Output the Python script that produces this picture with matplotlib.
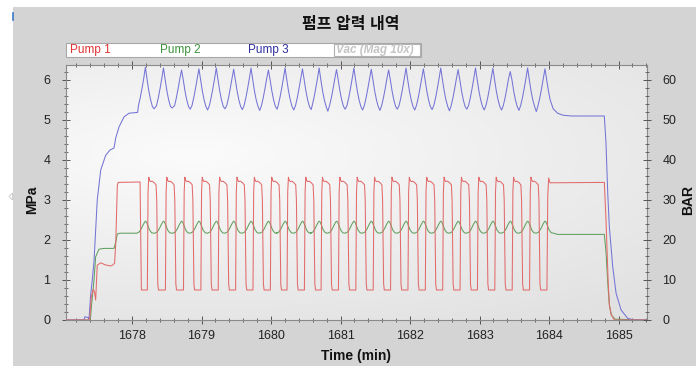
import numpy as np
import matplotlib
matplotlib.use("Agg")
import matplotlib.pyplot as plt
from matplotlib.ticker import MultipleLocator
from matplotlib.patches import Rectangle, Polygon
from matplotlib.lines import Line2D

plt.rcParams["font.family"] = ["Liberation Sans", "Noto Sans CJK KR", "DejaVu Sans"]

TITLE = "펌프 압력 내역"
LEGEND_NAMES = ["Pump 1", "Pump 2", "Pump 3", "Vac (Mag 10x)"]
X_LABEL = "Time (min)"
Y_LABEL_LEFT = "MPa"
Y_LABEL_RIGHT = "BAR"

X_RANGE = (1677.045, 1685.41)
Y_RANGE = (0, 6.375)          # MPa, right axis is the same scale in BAR (x10)

# pump stroke start times (red rising edges)
STROKE_T = [1678.22, 1678.48, 1678.74, 1678.99, 1679.24, 1679.49, 1679.74, 1679.99,
            1680.23, 1680.48, 1680.72, 1680.97, 1681.22, 1681.47, 1681.72, 1681.97,
            1682.22, 1682.47, 1682.72, 1682.97, 1683.22, 1683.47, 1683.72, 1683.97]

# ---- Pump 1 (red) ----
P1_START_T = [1677.05, 1677.39, 1677.413, 1677.442, 1677.459, 1677.476, 1677.486, 1677.499,
              1677.549, 1677.611, 1677.693, 1677.726, 1677.748, 1677.765, 1677.788, 1677.80,
              1678.115, 1678.134]
P1_START_V = [0, 0, 0.58, 0.77, 0.70, 0.50, 0.90, 1.37,
              1.43, 1.38, 1.35, 1.38, 1.42, 1.90, 3.37, 3.44,
              3.45, 0.75]
# one stroke, offsets from rising edge
P1_STROKE_DT = [0.0, 0.01, 0.02, 0.03, 0.045, 0.07, 0.10, 0.125, 0.135, 0.15, 0.16]
P1_STROKE_V = [0.75, 3.20, 3.57, 3.50, 3.46, 3.47, 3.43, 3.38, 3.00, 0.90, 0.75]
P1_LAST_DT = [0.0, 0.012, 0.025, 0.045]
P1_LAST_V = [0.75, 3.10, 3.55, 3.43]
P1_END_T = [1684.796, 1684.82, 1684.85, 1684.868, 1684.89, 1684.94, 1685.41]
P1_END_V = [3.44, 2.50, 1.00, 0.40, 0.15, 0.0, 0.0]

# ---- Pump 2 (green) ----
P2_START_T = [1677.05, 1677.40, 1677.413, 1677.43, 1677.452, 1677.476, 1677.524, 1677.596,
              1677.740, 1677.765, 1677.788, 1677.827, 1678.06]
P2_START_V = [0, 0, 0.30, 0.60, 1.00, 1.58, 1.77, 1.79,
              1.79, 1.95, 2.15, 2.17, 2.17]
P2_BUMP_DT = [-0.125, -0.09, -0.06, -0.03, -0.01, 0.0, 0.015, 0.035, 0.06, 0.09, 0.125]
P2_BUMP_V = [2.17, 2.20, 2.28, 2.39, 2.45, 2.47, 2.45, 2.36, 2.25, 2.18, 2.17]
P2_END_T = [1684.12, 1684.796, 1684.82, 1684.85, 1684.87, 1684.90, 1684.95, 1685.41]
P2_END_V = [2.14, 2.14, 1.70, 0.80, 0.35, 0.12, 0.02, 0.0]

# ---- Pump 3 (blue) ----
P3_START_T = [1677.05, 1677.31, 1677.32, 1677.37, 1677.38, 1677.404, 1677.427, 1677.452,
              1677.476, 1677.499, 1677.549, 1677.621, 1677.683, 1677.740, 1677.765, 1677.813,
              1677.885, 1677.957, 1678.08]
P3_START_V = [0, 0, 0.08, 0.06, 0.02, 0.62, 1.00, 1.46,
              2.25, 3.00, 3.75, 4.12, 4.25, 4.30, 4.55, 4.83,
              5.08, 5.17, 5.19]
P3_PEAK = [6.32, 6.30, 6.25, 6.28, 6.30, 6.27, 6.30, 6.25, 6.30, 6.28, 6.30, 6.26,
           6.30, 6.27, 6.25, 6.30, 6.28, 6.30, 6.26, 6.30, 6.29, 6.21, 6.30, 6.28]
P3_TROUGH = [5.28, 5.30, 5.27, 5.25, 5.28, 5.26, 5.24, 5.27, 5.25, 5.26, 5.22, 5.27,
             5.25, 5.24, 5.27, 5.25, 5.26, 5.23, 5.27, 5.25, 5.25, 5.24, 5.21, 5.26]
P3_RISE_DT = [-0.10, -0.075, -0.05, -0.025]
P3_RISE_V = [5.36, 5.55, 5.78, 6.03]
P3_FALL_DT = [0.025, 0.05, 0.075, 0.10]
P3_FALL_V = [6.00, 5.72, 5.50, 5.34]
P3_END_T = [1684.06, 1684.124, 1684.20, 1684.32, 1684.796, 1684.82, 1684.845, 1684.868,
            1684.917, 1684.965, 1685.037, 1685.133, 1685.224, 1685.41]
P3_END_V = [5.28, 5.17, 5.12, 5.10, 5.10, 4.42, 3.17, 2.33,
            1.33, 0.67, 0.25, 0.04, 0.0, 0.0]

PEAK_LEAD = 0.028   # blue/green peaks come just before the red edge


def pump1_trace():
    t, v = list(P1_START_T), list(P1_START_V)
    for r in STROKE_T[:-1]:
        t += [r + d for d in P1_STROKE_DT]
        v += P1_STROKE_V
    t += [STROKE_T[-1] + d for d in P1_LAST_DT]
    v += P1_LAST_V
    return t + P1_END_T, v + P1_END_V


def pump2_trace():
    t, v = list(P2_START_T), list(P2_START_V)
    for r in STROKE_T:
        t += [r - PEAK_LEAD + d for d in P2_BUMP_DT]
        v += P2_BUMP_V
    return t + P2_END_T, v + P2_END_V


def pump3_trace():
    t, v = list(P3_START_T), list(P3_START_V)
    for i, r in enumerate(STROKE_T):
        p = r - PEAK_LEAD
        t += [p + d for d in P3_RISE_DT] + [p]
        v += P3_RISE_V + [P3_PEAK[i]]
        if i < len(STROKE_T) - 1:
            t += [p + d for d in P3_FALL_DT] + [p + 0.125]
            v += P3_FALL_V + [P3_TROUGH[i]]
        else:
            t += [p + d for d in P3_FALL_DT[:3]]
            v += P3_FALL_V[:3]
    return t + P3_END_T, v + P3_END_V


W, H = 696, 366
fig = plt.figure(figsize=(W / 100, H / 100), dpi=100, facecolor="#d4d4d4")

# white margins at top / left of the screenshot
fig.patches.append(Rectangle((0, 0), 12.5 / W, 1, transform=fig.transFigure,
                             facecolor="white", edgecolor="none", zorder=0))
fig.patches.append(Rectangle((0, 1 - 7 / H), 1, 7 / H, transform=fig.transFigure,
                             facecolor="white", edgecolor="none", zorder=0))
fig.lines.append(Line2D([12.5 / W, 12.5 / W], [1 - 13 / H, 1 - 20 / H],
                        transform=fig.transFigure, color="#3a78c8", lw=1.2))
fig.patches.append(Polygon([(12.5 / W, 1 - 193 / H), (9 / W, 1 - 196.5 / H), (12.5 / W, 1 - 200 / H)],
                           closed=True, transform=fig.transFigure,
                           facecolor="white", edgecolor="#bbbbbb", lw=0.5))

left, right, top, bottom = 65.7, 647, 65, 320
ax = fig.add_axes([left / W, 1 - bottom / H, (right - left) / W, (bottom - top) / H])

# soft gradient in the plot area
gy, gx = np.mgrid[0:1:120j, 0:1:200j]
shade = 0.985 - 0.10 * np.clip(np.hypot((gx - 0.22) * 0.9, (gy - 0.35) * 1.3), 0, 1)
ax.imshow(np.dstack([shade] * 3), extent=(0, 1, 0, 1), transform=ax.transAxes,
          aspect="auto", origin="upper", zorder=0, interpolation="bilinear")

lw = 0.75
t1, v1 = pump1_trace()
t2, v2 = pump2_trace()
t3, v3 = pump3_trace()
ax.plot(t2, v2, color="#5ea05e", lw=lw, zorder=2)
ax.plot(t1, v1, color="#e26a6a", lw=lw, zorder=3)
ax.plot(t3, v3, color="#7474d6", lw=lw, zorder=2)

ax.set_xlim(*X_RANGE)
ax.set_ylim(*Y_RANGE)
ax.xaxis.set_major_locator(MultipleLocator(1))
ax.xaxis.set_minor_locator(MultipleLocator(0.2))
ax.yaxis.set_major_locator(MultipleLocator(1))
ax.yaxis.set_minor_locator(MultipleLocator(0.2))
ax.tick_params(which="both", direction="inout", top=True, colors="#555555",
               labelcolor="#222222", labelsize=9)
ax.tick_params(which="major", length=6, width=0.7, pad=4)
ax.tick_params(which="minor", length=3.5, width=0.6)
ax.tick_params(axis="y", pad=8)
for s in ax.spines.values():
    s.set_color("#8a8a8a")
    s.set_linewidth(0.8)

ax2 = ax.twinx()
ax2.set_ylim(Y_RANGE[0] * 10, Y_RANGE[1] * 10)
ax2.yaxis.set_major_locator(MultipleLocator(10))
ax2.yaxis.set_minor_locator(MultipleLocator(2))
ax2.tick_params(which="both", direction="inout", colors="#555555",
                labelcolor="#222222", labelsize=9)
ax2.tick_params(which="major", length=6, width=0.7, pad=8)
ax2.tick_params(which="minor", length=3.5, width=0.6)
for s in ax2.spines.values():
    s.set_visible(False)

fig.text(356 / W, 1 - 356 / H, X_LABEL, ha="center", va="center",
         fontsize=10, fontweight="bold", color="#111111")
fig.text(32 / W, 1 - 200 / H, Y_LABEL_LEFT, ha="center", va="center", rotation=90,
         fontsize=10, fontweight="bold", color="#111111")
fig.text(688 / W, 1 - 200 / H, Y_LABEL_RIGHT, ha="center", va="center", rotation=90,
         fontsize=10, fontweight="bold", color="#111111")
fig.text(351 / W, 1 - 24 / H, TITLE, ha="center", va="center",
         fontsize=11.5, fontweight="bold", color="#111111")

# legend strip
fig.patches.append(Rectangle((65.5 / W, 1 - 56.5 / H), 355.5 / W, 13.5 / H,
                             transform=fig.transFigure, facecolor="white",
                             edgecolor="#a8a8a8", lw=0.8))
fig.patches.append(Rectangle((334 / W, 1 - 55.5 / H), 86 / W, 11.5 / H,
                             transform=fig.transFigure, facecolor="white",
                             edgecolor="#b0b0b0", lw=0.8))
legend_x = [70, 160, 248, 336.5]
legend_colors = ["#e03333", "#3c923c", "#2f2f9e", "#c4c4c4"]
for name, x, c in zip(LEGEND_NAMES, legend_x, legend_colors):
    fig.text(x / W, 1 - 49.8 / H, name, ha="left", va="center", fontsize=8.5, color=c,
             fontstyle="italic" if name.startswith("Vac") else "normal",
             fontweight="bold" if name.startswith("Vac") else "normal")

fig.savefig("out.png", dpi=100, facecolor=fig.get_facecolor())
